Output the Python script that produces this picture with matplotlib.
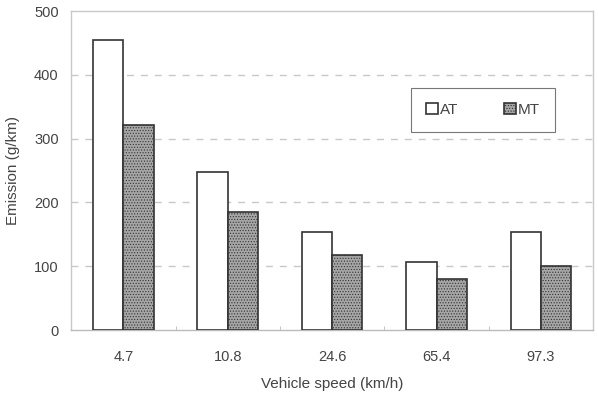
import matplotlib
matplotlib.use("Agg")
import matplotlib.pyplot as plt
import numpy as np

plt.rcParams['font.family'] = ['Liberation Sans', 'DejaVu Sans']
plt.rcParams['hatch.color'] = '#555555'
plt.rcParams['hatch.linewidth'] = 0.5

speeds = ["4.7", "10.8", "24.6", "65.4", "97.3"]
at_vals = [454, 248, 153, 106, 153]
mt_vals = [321, 185, 117, 80, 100]

TEXT = "#444444"

fig = plt.figure(figsize=(5.98, 3.93), dpi=100)
ax = fig.add_axes([0.119, 0.160, 0.873, 0.812])

x = np.arange(len(speeds))
w = 0.29
ax.bar(x - w/2, at_vals, w, facecolor="white", edgecolor="#333333", linewidth=1.2, label="AT", zorder=3)
ax.bar(x + w/2, mt_vals, w, facecolor="#a6a6a6", edgecolor="#333333", linewidth=1.2,
       hatch="......", label="MT", zorder=3)

ax.set_xlim(-0.5, len(speeds) - 0.5)
ax.set_ylim(0, 500)
ax.set_yticks([0, 100, 200, 300, 400, 500])
ax.set_xticks(x)
ax.set_xticklabels(speeds)
ax.set_xticks(np.arange(0.5, len(speeds) - 0.5, 1), minor=True)
ax.tick_params(axis='x', which='major', length=0, pad=14, labelsize=10.5, labelcolor=TEXT)
ax.tick_params(axis='x', which='minor', length=3, direction='in', color="#bbbbbb")
ax.tick_params(axis='y', length=0, pad=9, labelsize=10.5, labelcolor=TEXT)

for y in [100, 200, 300, 400]:
    ax.axhline(y, color="#c8c8c8", linestyle=(0, (5, 5)), linewidth=1.0, zorder=1)

for s in ax.spines.values():
    s.set_color("#c8c8c8")
    s.set_linewidth(1.0)
ax.spines['bottom'].set_color("#bbbbbb")

ax.set_ylabel("Emission (g/km)", fontsize=11, color=TEXT, labelpad=10)
ax.set_xlabel("Vehicle speed (km/h)", fontsize=11, color=TEXT, labelpad=10)

leg = ax.legend(loc="upper left", bbox_to_anchor=(0.651, 0.759), ncol=2, frameon=True,
                fancybox=False, edgecolor="#555555", fontsize=11, handlelength=0.75,
                handleheight=0.75, handletextpad=0.15, columnspacing=3.0,
                borderpad=1.0, borderaxespad=0)
for t in leg.get_texts():
    t.set_color(TEXT)
leg.get_frame().set_linewidth(0.8)

fig.savefig("out.png", dpi=100)
